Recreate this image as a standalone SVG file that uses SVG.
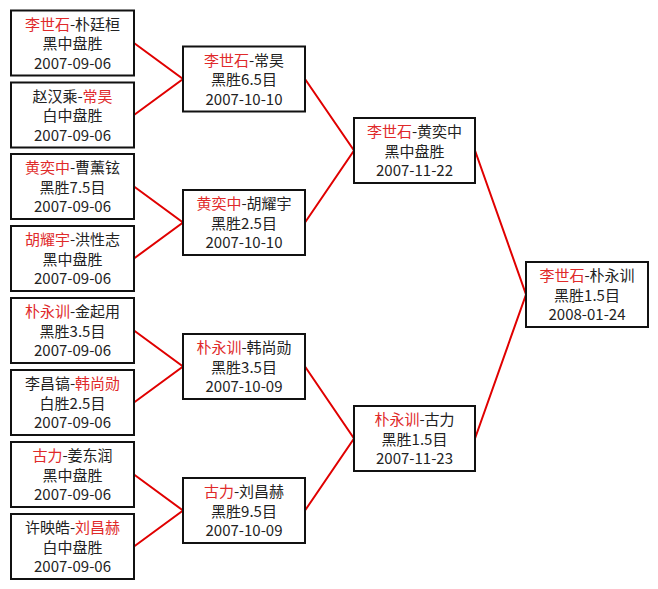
<svg xmlns="http://www.w3.org/2000/svg" width="658" height="589" viewBox="0 0 658 589">
<style>
.box{fill:#fff;stroke:#111;stroke-width:2}
.t{font-family:"Noto Sans CJK SC","Noto Sans",sans-serif;font-size:15px;fill:#222;text-anchor:middle}
.r{fill:#e02a2a}
.ln{stroke:#e00000;stroke-width:2;fill:none}
</style>
<rect width="658" height="589" fill="#fff"/>
<g id="connectors">
<polyline class="ln" points="134,43 183,79 134,115"/>
<polyline class="ln" points="134,186.5 183,222.5 134,258.5"/>
<polyline class="ln" points="134,330.5 183,366.5 134,402.5"/>
<polyline class="ln" points="134,474.5 183,510.5 134,546.5"/>
<polyline class="ln" points="305,79 354,150.5 305,222.5"/>
<polyline class="ln" points="305,366.5 354,438.5 305,510.5"/>
<polyline class="ln" points="475,150.5 526,294.5 475,438.5"/>
</g>
<g id="leaf1" transform="translate(11,10.5)"><rect class="box" width="123" height="65"/><text class="t" x="61.5" y="19"><tspan class="r">李世石</tspan>-朴廷桓</text><text class="t" x="61.5" y="38.5">黑中盘胜</text><text class="t" x="61.5" y="58">2007-09-06</text></g>
<g id="leaf2" transform="translate(11,82.5)"><rect class="box" width="123" height="65"/><text class="t" x="61.5" y="19">赵汉乘-<tspan class="r">常昊</tspan></text><text class="t" x="61.5" y="38.5">白中盘胜</text><text class="t" x="61.5" y="58">2007-09-06</text></g>
<g id="leaf3" transform="translate(11,154)"><rect class="box" width="123" height="65"/><text class="t" x="61.5" y="19"><tspan class="r">黄奕中</tspan>-曹薰铉</text><text class="t" x="61.5" y="38.5">黑胜7.5目</text><text class="t" x="61.5" y="58">2007-09-06</text></g>
<g id="leaf4" transform="translate(11,226)"><rect class="box" width="123" height="65"/><text class="t" x="61.5" y="19"><tspan class="r">胡耀宇</tspan>-洪性志</text><text class="t" x="61.5" y="38.5">黑中盘胜</text><text class="t" x="61.5" y="58">2007-09-06</text></g>
<g id="leaf5" transform="translate(11,298)"><rect class="box" width="123" height="65"/><text class="t" x="61.5" y="19"><tspan class="r">朴永训</tspan>-金起用</text><text class="t" x="61.5" y="38.5">黑胜3.5目</text><text class="t" x="61.5" y="58">2007-09-06</text></g>
<g id="leaf6" transform="translate(11,370)"><rect class="box" width="123" height="65"/><text class="t" x="61.5" y="19">李昌镐-<tspan class="r">韩尚勋</tspan></text><text class="t" x="61.5" y="38.5">白胜2.5目</text><text class="t" x="61.5" y="58">2007-09-06</text></g>
<g id="leaf7" transform="translate(11,442)"><rect class="box" width="123" height="65"/><text class="t" x="61.5" y="19"><tspan class="r">古力</tspan>-姜东润</text><text class="t" x="61.5" y="38.5">黑中盘胜</text><text class="t" x="61.5" y="58">2007-09-06</text></g>
<g id="leaf8" transform="translate(11,514)"><rect class="box" width="123" height="65"/><text class="t" x="61.5" y="19">许映皓-<tspan class="r">刘昌赫</tspan></text><text class="t" x="61.5" y="38.5">白中盘胜</text><text class="t" x="61.5" y="58">2007-09-06</text></g>
<g id="semi1" transform="translate(183,46.5)"><rect class="box" width="122" height="65"/><text class="t" x="61" y="19"><tspan class="r">李世石</tspan>-常昊</text><text class="t" x="61" y="38.5">黑胜6.5目</text><text class="t" x="61" y="58">2007-10-10</text></g>
<g id="semi2" transform="translate(183,190)"><rect class="box" width="122" height="65"/><text class="t" x="61" y="19"><tspan class="r">黄奕中</tspan>-胡耀宇</text><text class="t" x="61" y="38.5">黑胜2.5目</text><text class="t" x="61" y="58">2007-10-10</text></g>
<g id="semi3" transform="translate(183,334)"><rect class="box" width="122" height="65"/><text class="t" x="61" y="19"><tspan class="r">朴永训</tspan>-韩尚勋</text><text class="t" x="61" y="38.5">黑胜3.5目</text><text class="t" x="61" y="58">2007-10-09</text></g>
<g id="semi4" transform="translate(183,478)"><rect class="box" width="122" height="65"/><text class="t" x="61" y="19"><tspan class="r">古力</tspan>-刘昌赫</text><text class="t" x="61" y="38.5">黑胜9.5目</text><text class="t" x="61" y="58">2007-10-09</text></g>
<g id="final1" transform="translate(354,118)"><rect class="box" width="121" height="65"/><text class="t" x="60.5" y="19"><tspan class="r">李世石</tspan>-黄奕中</text><text class="t" x="60.5" y="38.5">黑中盘胜</text><text class="t" x="60.5" y="58">2007-11-22</text></g>
<g id="final2" transform="translate(354,406)"><rect class="box" width="121" height="65"/><text class="t" x="60.5" y="19"><tspan class="r">朴永训</tspan>-古力</text><text class="t" x="60.5" y="38.5">黑胜1.5目</text><text class="t" x="60.5" y="58">2007-11-23</text></g>
<g id="champion" transform="translate(526,262)"><rect class="box" width="122" height="65"/><text class="t" x="61" y="19"><tspan class="r">李世石</tspan>-朴永训</text><text class="t" x="61" y="38.5">黑胜1.5目</text><text class="t" x="61" y="58">2008-01-24</text></g>
</svg>
